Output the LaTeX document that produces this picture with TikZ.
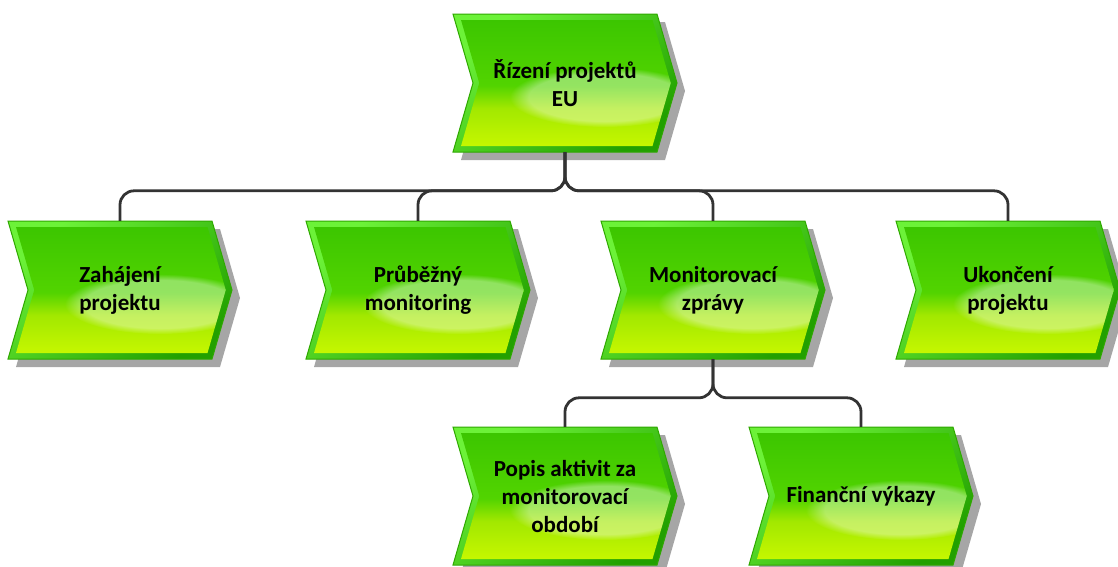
\documentclass[tikz,border=0pt]{standalone}
\usepackage{fontspec}
\setmainfont{Carlito}
\usetikzlibrary{calc,fadings}

\definecolor{shadowgray}{HTML}{A6A6A6}
\definecolor{bevlight}{HTML}{6CF238}
\definecolor{bevdark}{HTML}{22A000}
\definecolor{edgegreen}{HTML}{2FA800}
\definecolor{ctop}{HTML}{3CC600}
\definecolor{cmid}{HTML}{52D400}
\definecolor{cmidb}{HTML}{A2E800}
\definecolor{cbot}{HTML}{C6F700}
\definecolor{linkc}{HTML}{333333}

% inner fill of a chevron: green on top, yellow-green below
\pgfdeclareverticalshading{chevfill}{100bp}{%
  color(0bp)=(cbot); color(25bp)=(cbot); color(40bp)=(cmidb);
  color(49bp)=(cmid); color(75bp)=(ctop); color(100bp)=(ctop)}

% chevron outlines around the origin (pixel units, y pointing down)
\newcommand\chevpath{(-112,-69) -- (92,-69) -- (112,0) -- (92,69) -- (-112,69) -- (-92,0) -- cycle}
\newcommand\chevinner{(-104,-63) -- (87.5,-63) -- (105.75,0) -- (87.5,63) -- (-104,63) -- (-85.75,0) -- cycle}

\tikzset{
  chevtext/.style={draw=none, inner sep=0pt, minimum width=224pt, minimum height=138pt,
    align=center, text=black, font=\bfseries\fontsize{23}{28}\selectfont},
  link/.style={draw=linkc, line width=2.8pt, rounded corners=14pt},
}

% \chevron{name}{cx}{cy}{text}
\newcommand\chevron[4]{%
  \begin{scope}[shift={(#2,#3)}]
    \fill[shadowgray, shift={(8,8)}] \chevpath;
    \shadedraw[draw=edgegreen, line width=1pt, top color=bevlight, bottom color=bevdark, shading angle=40] \chevpath;
    \begin{scope}
      \clip \chevinner;
      \shade[shading=chevfill] \chevinner;
      \fill[white, opacity=0.38, path fading=circle with fuzzy edge 20 percent]
        (40,14) ellipse [x radius=95, y radius=30];
    \end{scope}
  \end{scope}
  \node[chevtext] (#1) at (#2,#3) {#4};
}

\begin{document}
\begin{tikzpicture}[x=1pt, y=-1pt]
  \useasboundingbox (0,0) rectangle (1118,566);

  \chevron{top}{565}{83}{Řízení projektů\\EU}
  \chevron{zah}{120}{290}{Zahájení\\projektu}
  \chevron{prub}{418}{290}{Průběžný\\monitoring}
  \chevron{mon}{713}{290}{Monitorovací\\zprávy}
  \chevron{uko}{1008}{290}{Ukončení\\projektu}
  \chevron{popis}{565}{496}{Popis aktivit za\\monitorovací\\období}
  \chevron{fin}{861}{496}{Finanční výkazy}

  % connectors
  \foreach \c in {zah,prub,mon,uko}
    \draw[link] (top.south) |- ($(\c.north)+(0,-30)$) -- (\c.north);
  \foreach \c in {popis,fin}
    \draw[link] (mon.south) |- ($(\c.north)+(0,-29)$) -- (\c.north);
\end{tikzpicture}
\end{document}
